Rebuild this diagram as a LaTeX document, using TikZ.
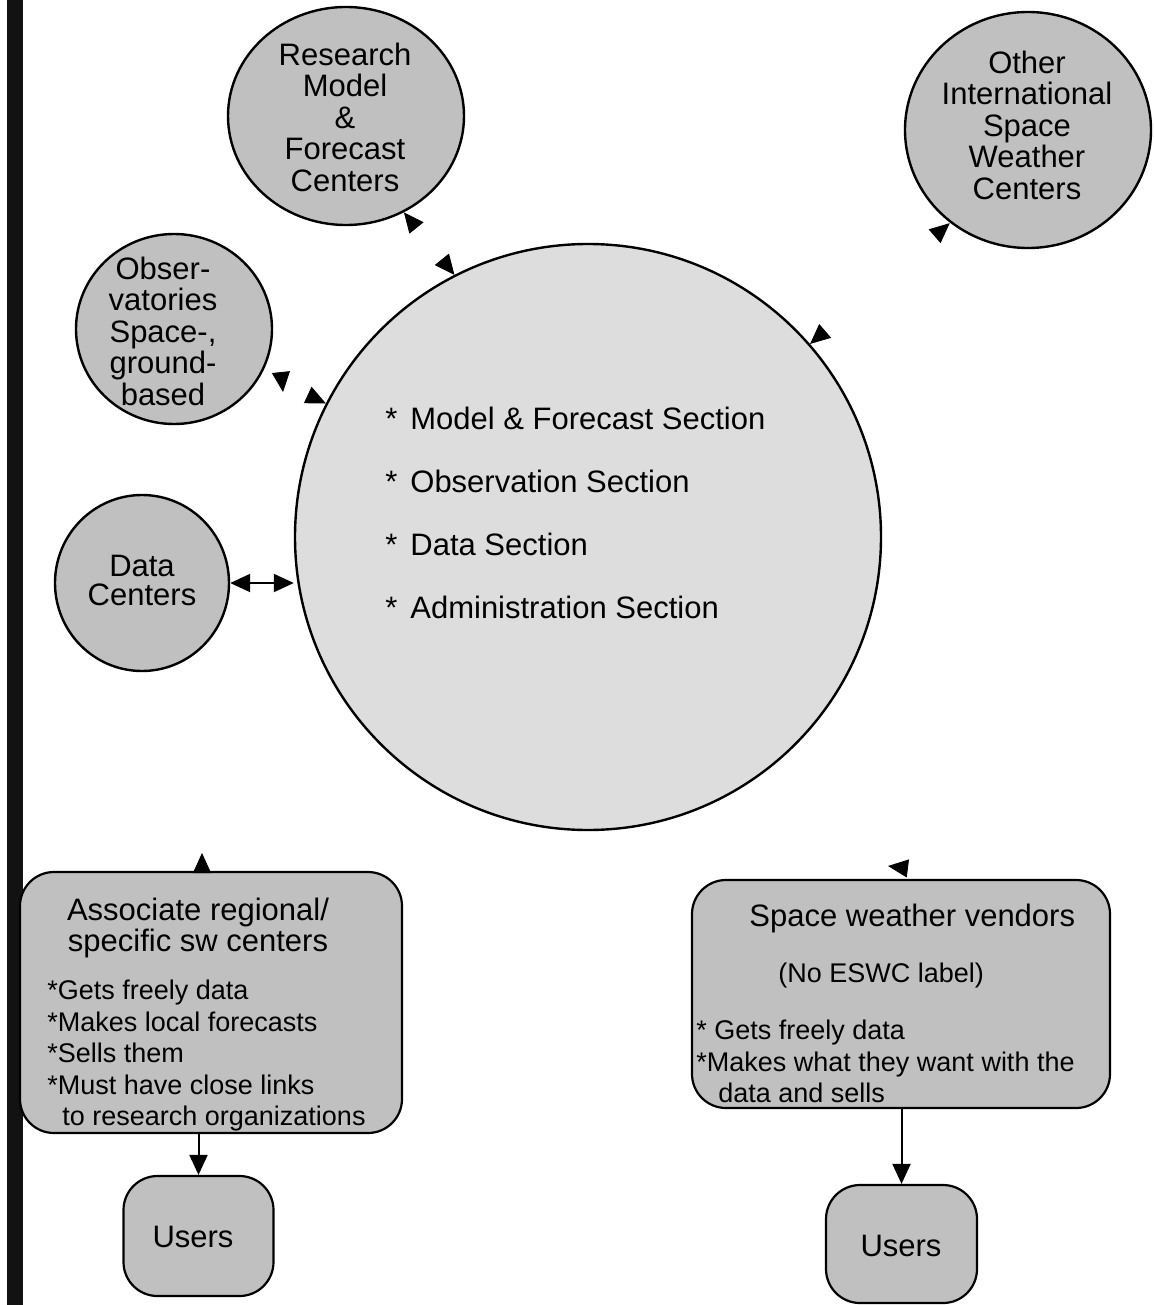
\documentclass[tikz,border=0pt]{standalone}
\usepackage{fontspec}
\setmainfont{Liberation Sans}
\usetikzlibrary{arrows.meta,shapes.geometric,decorations.markings}
\definecolor{ringgray}{RGB}{192,192,192}
\definecolor{hubgray}{RGB}{221,221,221}
\newcommand\bigtext{\fontsize{15.5}{15.75}\selectfont}
\newcommand\smalltext{\fontsize{13.5}{15.75}\selectfont}
\begin{document}
\begin{tikzpicture}
  [x=0.5pt, y=-0.5pt,
   >={Triangle[length=10pt,width=9pt]},
   ring/.style={draw, line width=1.2pt, fill=ringgray, ellipse, inner sep=0pt},
   hub/.style={draw, line width=1.2pt, fill=hubgray, circle, inner sep=0pt, minimum size=293pt},
   panel/.style={draw, line width=1.1pt, fill=ringgray, rounded corners=17pt, inner sep=0pt},
   ringtext/.style={align=center, font=\bigtext, inner sep=0pt},
   listtext/.style={align=left, font=\smalltext, inner sep=0pt, anchor=north west},
   backhead/.style={postaction={decorate, decoration={markings, mark=at position 0 with {\arrowreversed{>}}}}},
   fronthead/.style={postaction={decorate, decoration={markings, mark=at position 0 with {\arrow{>}}}}},
   endhead/.style={postaction={decorate, decoration={markings, mark=at position 1 with {\arrow{>}}}}}]

  \useasboundingbox (0,0) rectangle (1154,1305);
  \fill[black!93] (7,0) rectangle (23,1305);

  % centres around the hub
  \node[ring, minimum width=118pt, minimum height=109pt] (research) at (346,116) {};
  \node[ringtext] at (345,117) {Research\\Model\\\&\\Forecast\\Centers};
  \node[ring, minimum width=123pt, minimum height=118pt] (other) at (1028,130) {};
  \node[ringtext] at (1027,125) {Other\\International\\Space\\Weather\\Centers};
  \node[ring, minimum width=98pt, minimum height=95pt] (obs) at (174,329) {};
  \node[ringtext] at (163,331) {Obser-\\vatories\\Space-,\\ground-\\based};
  \node[ring, minimum width=87pt, minimum height=88pt] (data) at (142,583) {};
  \node[ringtext, font=\fontsize{15.5}{14.5}\selectfont] at (142,580) {Data\\Centers};

  % the hub
  \node[hub] (hub) at (588,537) {};
  \node[anchor=west, font=\bigtext, inner sep=0pt] (mfs) at (385,418) {\makebox[12.5pt][l]{*}Model \& Forecast Section};
  \node[anchor=west, font=\bigtext, inner sep=0pt] (obsec) at (385,481) {\makebox[12.5pt][l]{*}Observation Section};
  \node[anchor=west, font=\bigtext, inner sep=0pt] (datsec) at (385,544) {\makebox[12.5pt][l]{*}Data Section};
  \node[anchor=west, font=\bigtext, inner sep=0pt] (admsec) at (385,607) {\makebox[12.5pt][l]{*}Administration Section};

  % regional centres and vendors
  \node[panel, minimum width=191pt, minimum height=130.5pt] (assoc) at (211,1002.5) {};
  \node[ringtext] at (198,928) {Associate regional/\\specific sw centers};
  \node[listtext] at (47,980) {*Gets freely data\\*Makes local forecasts\\*Sells them\\*Must have close links\\\hspace*{7.5pt}to research organizations};
  \node[panel, minimum width=209pt, minimum height=114pt] (vendors) at (901,994) {};
  \node[anchor=west, font=\bigtext, inner sep=0pt] at (749,918) {Space weather vendors};
  \node[anchor=west, font=\smalltext, inner sep=0pt] at (778,975) {(No ESWC label)};
  \node[listtext] at (696,1020) {* Gets freely data\\*Makes what they want with the\\\hspace*{11pt}data and sells};

  \node[panel, minimum width=75pt, minimum height=60pt] (usersA) at (198.5,1236) {};
  \node[ringtext] at (193,1237) {Users};
  \node[panel, minimum width=75.5pt, minimum height=59pt] (usersB) at (901.5,1244) {};
  \node[ringtext] at (901,1246) {Users};

  % links
  \coordinate (obsTip) at (283,392);
  \coordinate (assocTip) at (202,853);
  \coordinate (vendTip) at (888,866);
  \path[backhead, endhead] (hub.117) -- (research.-59);
  \path[backhead, endhead] (hub.41) -- (other.-130);
  \path[backhead, endhead] (obsTip) to[out=96, in=155] (hub.153);
  \path[fronthead, endhead] (assocTip) to[out=90, in=217] (hub.-138);
  \path[fronthead] (vendTip) to[out=173, in=-60] (hub.-50);
  \draw[line width=1pt, <->] (data.east) -- (data.east -| hub.west);
  \draw[line width=1pt, ->] (assoc.south -| usersA.north) -- (usersA.north);
  \draw[line width=1pt, ->] (vendors.south -| usersB.north) -- (usersB.north);
\end{tikzpicture}
\end{document}
